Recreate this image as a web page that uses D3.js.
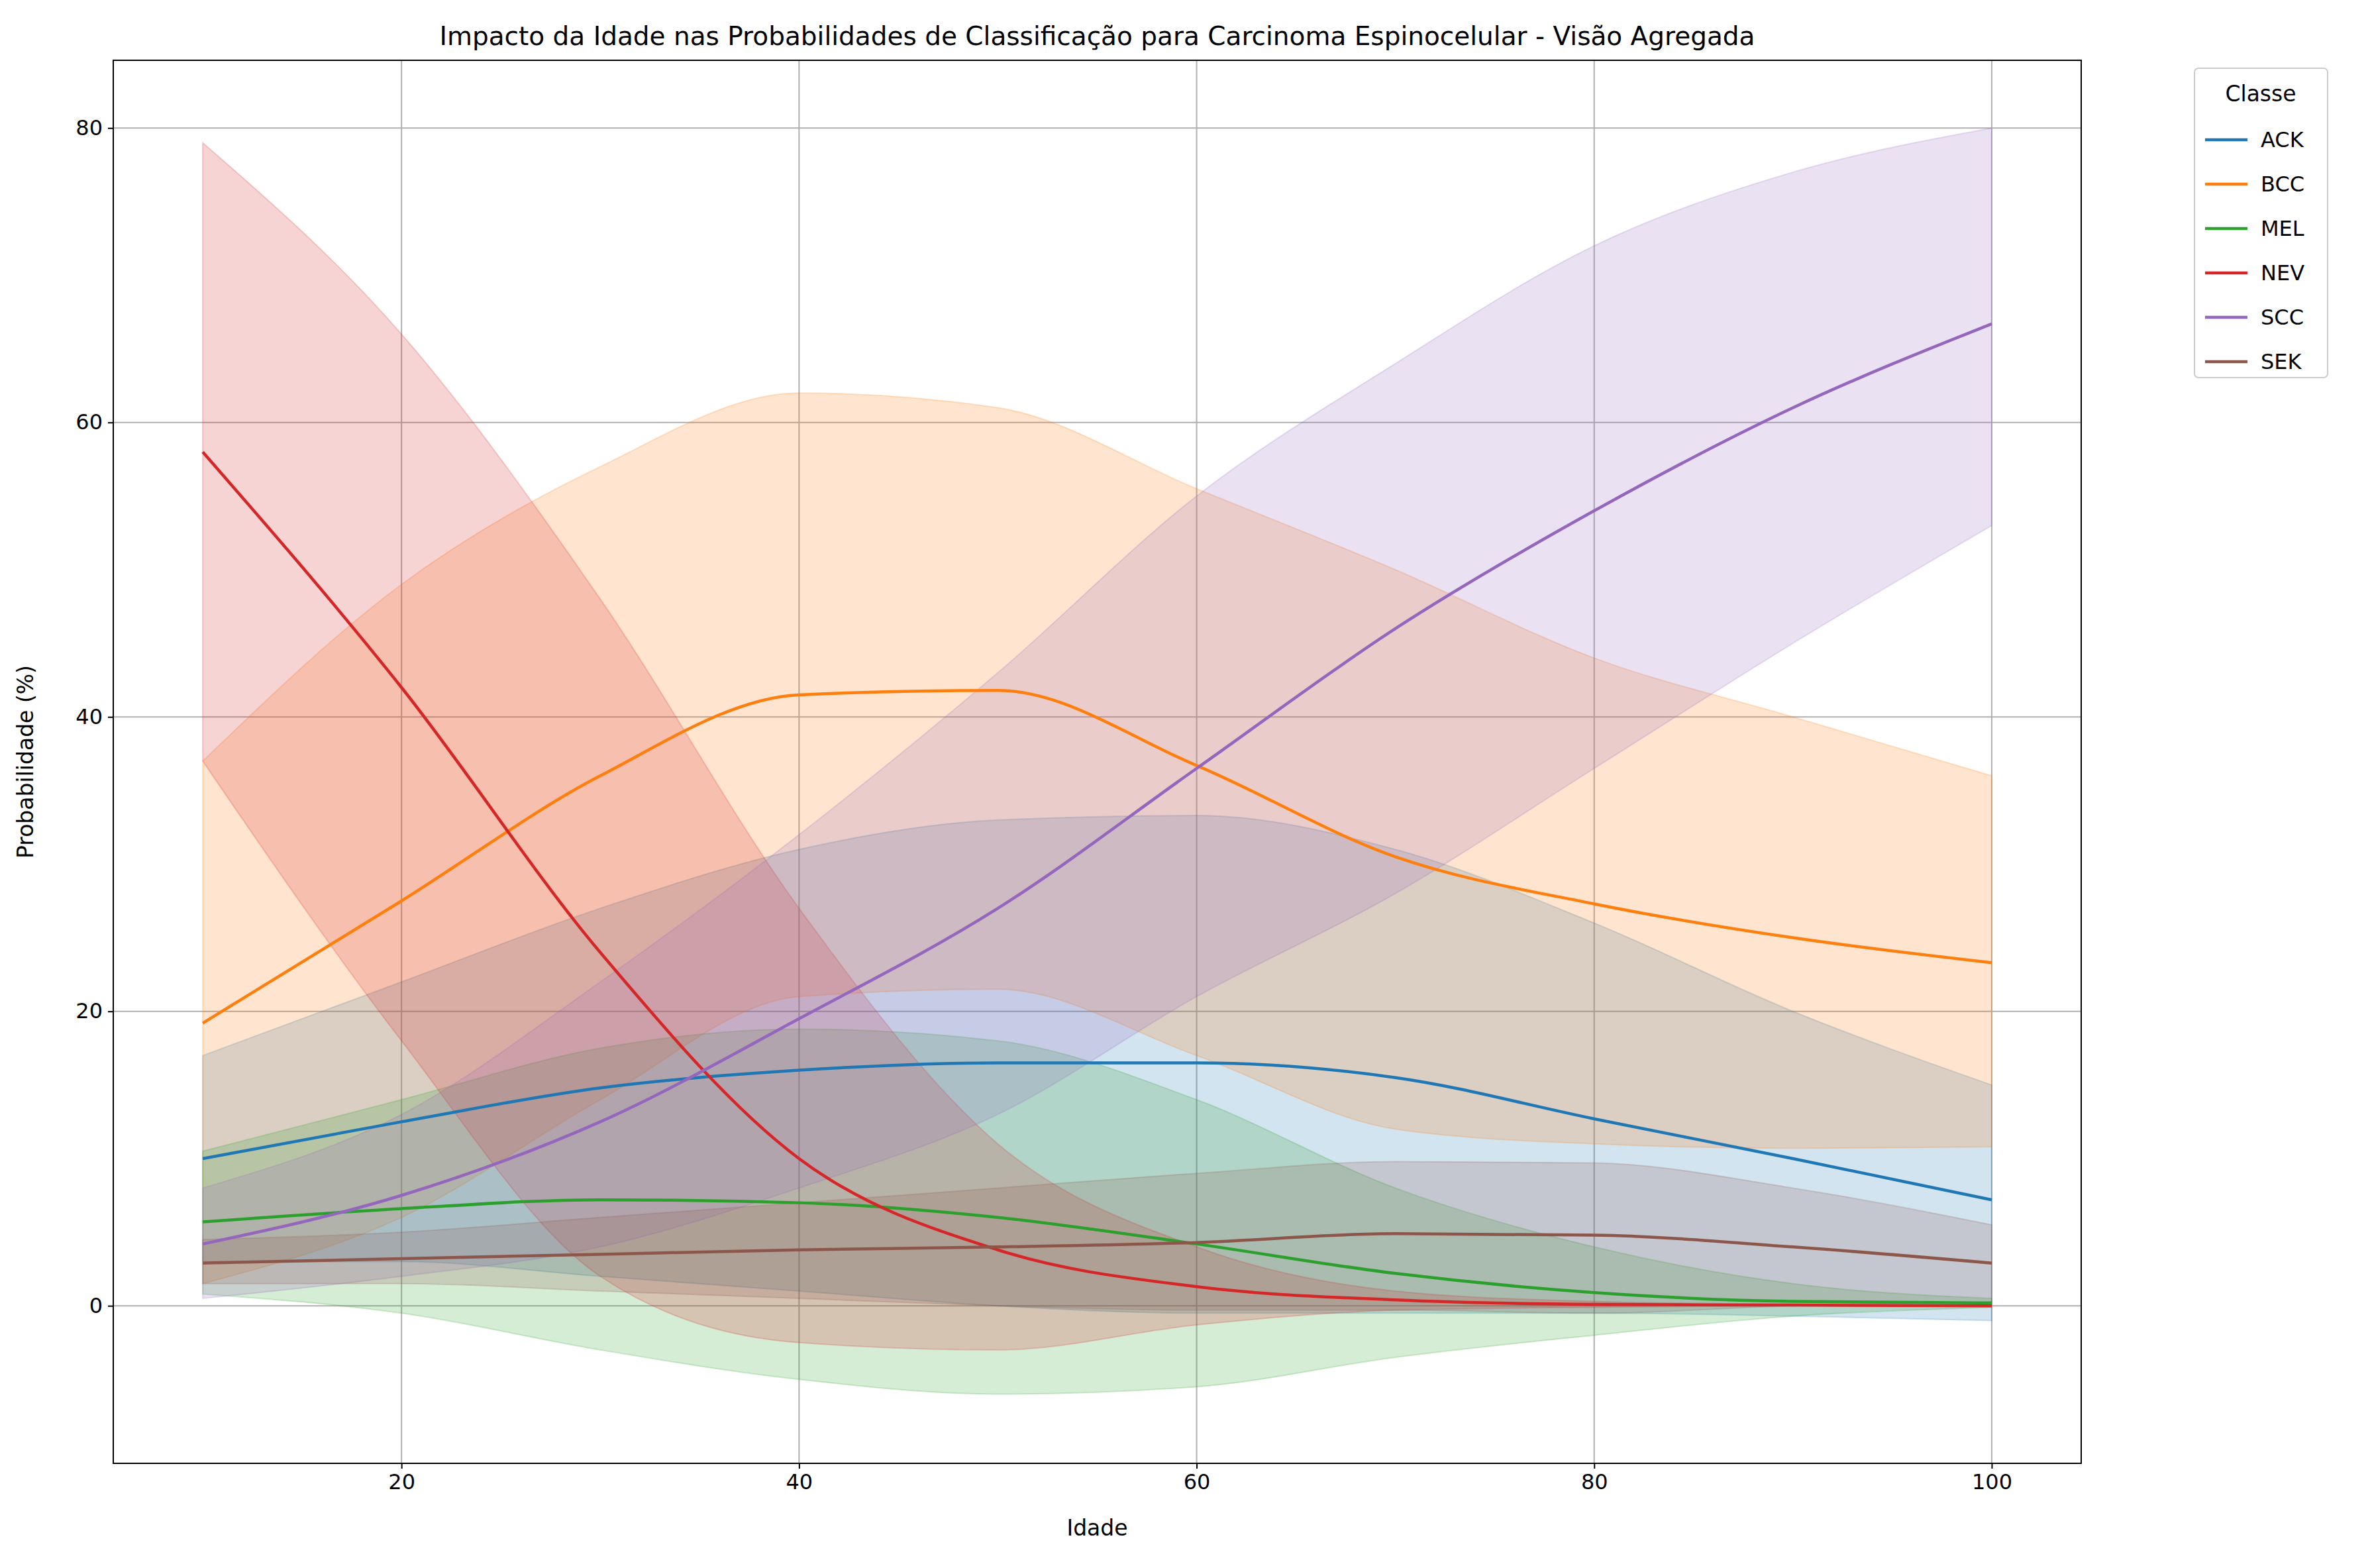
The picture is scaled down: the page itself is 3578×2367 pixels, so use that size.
<!DOCTYPE html>
<html><head><meta charset="utf-8">
<script src="https://cdn.jsdelivr.net/npm/d3@7"></script>
<style>body{margin:0;background:#fff}svg{font-family:"DejaVu Sans",sans-serif}</style>
</head><body><svg id="c" width="3578" height="2367"></svg>
<script>
const ages = [10,20,30,40,50,60,70,80,90,100];
const classes = ["ACK","BCC","MEL","NEV","SCC","SEK"];
const colors = ["#1f77b4","#ff7f0e","#2ca02c","#d62728","#9467bd","#8c564b"];
const meanACK = [10,12.5,14.8,16,16.5,16.5,15.5,12.7,10,7.2];
const upACK   = [17,22,27,31,33,33.3,31,26,20,15];
const loACK   = [3,3,2,1,0,-0.5,-0.5,-0.5,-0.7,-1];
const meanBCC = [19.2,27.5,36,41.5,41.8,36.7,30.5,27.3,25,23.3];
const upBCC   = [37,49,57,62,61,55.5,50,44,40,36];
const loBCC   = [1.5,6,14,21,21.5,17,12,11,10.7,10.8];
const meanMEL = [5.7,6.6,7.2,7,6,4.2,2.2,0.9,0.3,0.2];
const upMEL   = [10.5,14,17.5,18.8,18,14,8,4,1.5,0.5];
const loMEL   = [0.8,-0.5,-3,-5,-6,-5.5,-3.5,-2,-0.7,-0.1];
const meanNEV = [58,42,24,10,3.8,1.3,0.4,0.1,0.05,0];
const upNEV   = [79,66,48,27,11,4,1,0.3,0.1,0.05];
const loNEV   = [37,18,2,-2.5,-3,-1.3,-0.3,-0.1,0,0];
const meanSCC = [4.2,7.5,12.5,19.5,27,36.5,46,54,61,66.7];
const upSCC   = [8,13,22,32,43,55,64,72,77,80];
const loSCC   = [0.5,2,4,8,13,21,28,36.5,45,53];
const meanSEK = [2.9,3.2,3.5,3.8,4,4.3,4.9,4.8,4,2.9];
const upSEK   = [4.5,5,6,7,8,9,9.8,9.7,8,5.5];
const loSEK   = [1.5,1.5,1,0.5,0,-0.3,-0.3,-0.5,0,0.2];
const means=[meanACK,meanBCC,meanMEL,meanNEV,meanSCC,meanSEK];
const ups=[upACK,upBCC,upMEL,upNEV,upSCC,upSEK];
const los=[loACK,loBCC,loMEL,loNEV,loSCC,loSEK];
const xTicks=[20,40,60,80,100], yTicks=[0,20,40,60,80];

const svg=d3.select("#c");
const L=171,R=3142,T=91,B=2209;
const x=d3.scaleLinear().domain([5.5,104.5]).range([L,R]);
const y=d3.scaleLinear().domain([-10.7,84.6]).range([B,T]);
const g=svg.append("g");
g.selectAll(".gx").data(xTicks).join("line").attr("x1",d=>x(d)).attr("x2",d=>x(d)).attr("y1",T).attr("y2",B).attr("stroke","#b0b0b0").attr("stroke-width",2);
g.selectAll(".gy").data(yTicks).join("line").attr("y1",d=>y(d)).attr("y2",d=>y(d)).attr("x1",L).attr("x2",R).attr("stroke","#b0b0b0").attr("stroke-width",2);
const curve=d3.curveMonotoneX;
classes.forEach((c,i)=>{
  const area=d3.area().x((d,j)=>x(ages[j])).y0((d,j)=>y(los[i][j])).y1((d,j)=>y(ups[i][j])).curve(curve);
  g.append("path").attr("d",area(ages)).attr("fill",colors[i]).attr("fill-opacity",0.2).attr("stroke",colors[i]).attr("stroke-opacity",0.2).attr("stroke-width",2);
});
classes.forEach((c,i)=>{
  const line=d3.line().x((d,j)=>x(ages[j])).y(d=>y(d)).curve(curve);
  g.append("path").attr("d",line(means[i])).attr("fill","none").attr("stroke",colors[i]).attr("stroke-width",4.5);
});
g.append("rect").attr("x",L).attr("y",T).attr("width",R-L).attr("height",B-T).attr("fill","none").attr("stroke","#000").attr("stroke-width",2);
const xa=svg.append("g").attr("transform",`translate(0,${B})`).call(d3.axisBottom(x).tickValues(xTicks).tickSize(8).tickPadding(8));
const ya=svg.append("g").attr("transform",`translate(${L},0)`).call(d3.axisLeft(y).tickValues(yTicks).tickSize(8).tickPadding(8));
[xa,ya].forEach(a=>{a.select(".domain").remove();a.selectAll("text").attr("font-size",32).attr("fill","#000").attr("font-family","DejaVu Sans");a.selectAll("line").attr("stroke-width",2);});
svg.append("text").attr("x",(L+R)/2).attr("y",68).attr("text-anchor","middle").attr("font-size",39).text("Impacto da Idade nas Probabilidades de Classificação para Carcinoma Espinocelular - Visão Agregada");
svg.append("text").attr("x",(L+R)/2).attr("y",2318).attr("text-anchor","middle").attr("font-size",33).text("Idade");
svg.append("text").attr("transform",`translate(50,${(T+B)/2}) rotate(-90)`).attr("text-anchor","middle").attr("font-size",33).text("Probabilidade (%)");
const lg=svg.append("g").attr("transform","translate(3313,103)");
lg.append("rect").attr("width",201).attr("height",467).attr("rx",6).attr("fill","#fff").attr("stroke","#ccc").attr("stroke-width",2);
lg.append("text").attr("x",100).attr("y",50).attr("text-anchor","middle").attr("font-size",33).text("Classe");
classes.forEach((c,i)=>{
  const yy=108+i*67;
  lg.append("line").attr("x1",16).attr("x2",80).attr("y1",yy).attr("y2",yy).attr("stroke",colors[i]).attr("stroke-width",4.5);
  lg.append("text").attr("x",100).attr("y",yy+11).attr("font-size",32).text(c);
});
</script></body></html>
